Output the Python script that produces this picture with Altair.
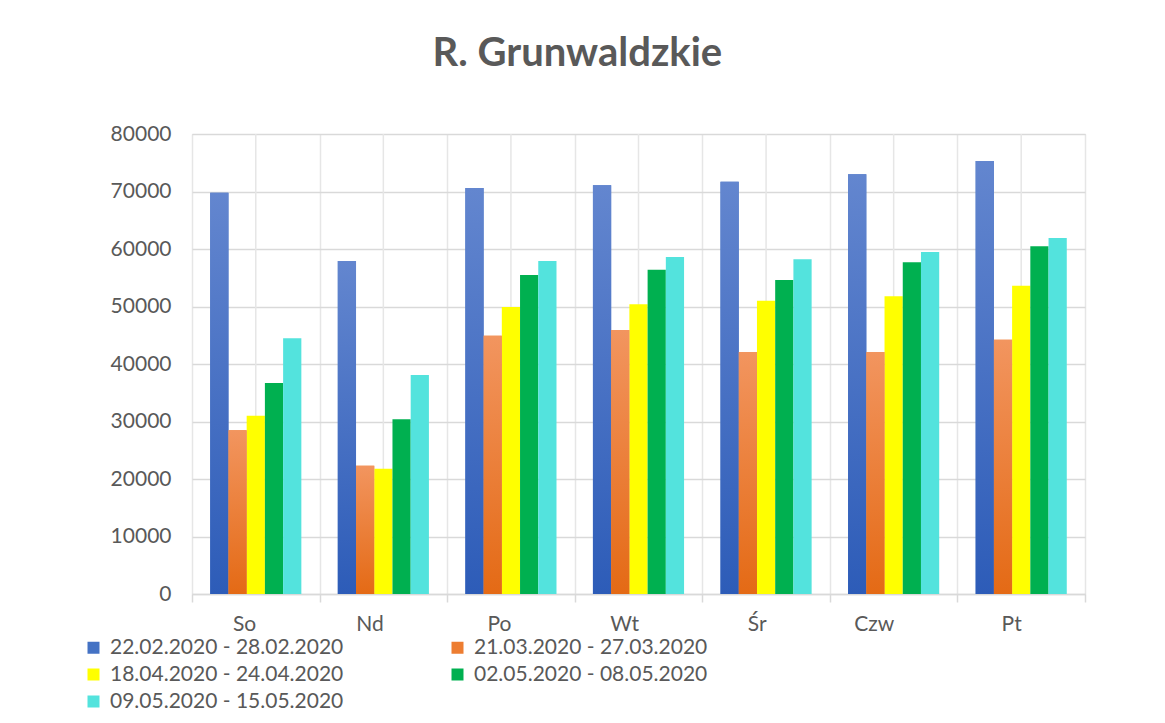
import altair as alt
import pandas as pd

days = ["So", "Nd", "Po", "Wt", "Śr", "Czw", "Pt"]
series = [
    "22.02.2020 - 28.02.2020",
    "21.03.2020 - 27.03.2020",
    "18.04.2020 - 24.04.2020",
    "02.05.2020 - 08.05.2020",
    "09.05.2020 - 15.05.2020",
]
s1 = [69800, 57900, 70600, 71100, 71700, 73000, 75300]
s2 = [28500, 22300, 44900, 45900, 42100, 42100, 44200]
s3 = [31000, 21800, 49900, 50400, 51000, 51800, 53600]
s4 = [36700, 30400, 55500, 56400, 54600, 57700, 60500]
s5 = [44500, 38100, 57900, 58600, 58200, 59500, 61900]
colors = ["#4472c4", "#ed7d31", "#ffff00", "#00b050", "#53e3dd"]
y_ticks = [0, 10000, 20000, 30000, 40000, 50000, 60000, 70000, 80000]

rows = []
for name, vals in zip(series, [s1, s2, s3, s4, s5]):
    for d, v in zip(days, vals):
        rows.append({"day": d, "series": name, "value": v})
df = pd.DataFrame(rows)
days_df = pd.DataFrame({"day": days})

FONT = "Lato"
GREY = "#595959"

x_enc = alt.X(
    "day:N",
    sort=days,
    scale=alt.Scale(domain=days, paddingInner=0, paddingOuter=0),
    axis=alt.Axis(
        title=None, labelAngle=0, labelFontSize=21, labelFont=FONT, labelColor=GREY,
        labelPadding=22, tickBand="extent", ticks=True, tickSize=8, tickColor="#d9d9d9",
        tickWidth=1.5, domainColor="#d9d9d9", domainWidth=1.5, grid=True,
        gridColor="#e6e6e6", gridWidth=1.5,
    ),
)
xo_enc = alt.XOffset(
    "series:N", sort=series,
    scale=alt.Scale(domain=series, paddingInner=0, paddingOuter=1.0),
)
y_enc = alt.Y(
    "value:Q",
    scale=alt.Scale(domain=[0, 80000]),
    axis=alt.Axis(
        title=None, values=y_ticks, format="d", labelFontSize=21, labelFont=FONT,
        labelColor=GREY, labelPadding=21, ticks=False, domain=False, grid=True,
        gridColor="#d9d9d9", gridWidth=1.5,
    ),
)

center_rules = alt.Chart(days_df).mark_rule(color="#e6e6e6", strokeWidth=1.5).encode(
    x=alt.X("day:N", sort=days),
    y=alt.datum(0),
    y2=alt.datum(80000),
)

bars = alt.Chart(df).mark_bar().encode(
    x=x_enc,
    xOffset=xo_enc,
    y=y_enc,
    color=alt.Color(
        "series:N", sort=series,
        scale=alt.Scale(domain=series, range=colors),
        legend=alt.Legend(
            title=None, orient="none", legendX=-109, legendY=503, columns=2,
            direction="horizontal",
            symbolType="square", symbolSize=144, symbolStrokeWidth=0,
            labelFontSize=21, labelFont=FONT, labelColor=GREY, labelLimit=400,
            labelOffset=6, columnPadding=103, rowPadding=5, padding=0,
        ),
    ),
)

def grad(top, bottom):
    return alt.LinearGradient(
        gradient="linear", x1=0, x2=0, y1=0, y2=1,
        stops=[alt.GradientStop(color=top, offset=0), alt.GradientStop(color=bottom, offset=1)],
    )

blue_bars = alt.Chart(df).transform_filter(
    alt.datum.series == series[0]
).mark_bar(fill=grad("#6386cf", "#2d5cb8")).encode(x=x_enc, xOffset=xo_enc, y=y_enc)

orange_bars = alt.Chart(df).transform_filter(
    alt.datum.series == series[1]
).mark_bar(fill=grad("#f2955f", "#e46a15")).encode(x=x_enc, xOffset=xo_enc, y=y_enc)

chart = alt.layer(center_rules, bars, blue_bars, orange_bars).properties(
    width=893,
    height=460,
    padding={"left": 75, "top": 26, "right": 20, "bottom": 10},
    title=alt.Title(
        "R. Grunwaldzkie", fontSize=40, font=FONT, fontWeight="bold", color=GREY,
        anchor="middle", frame="bounds", offset=49, dx=-7,
    ),
).configure_view(stroke=None).configure(background="white")

chart.save("out.html", embed_options={"renderer": "svg", "actions": False})
